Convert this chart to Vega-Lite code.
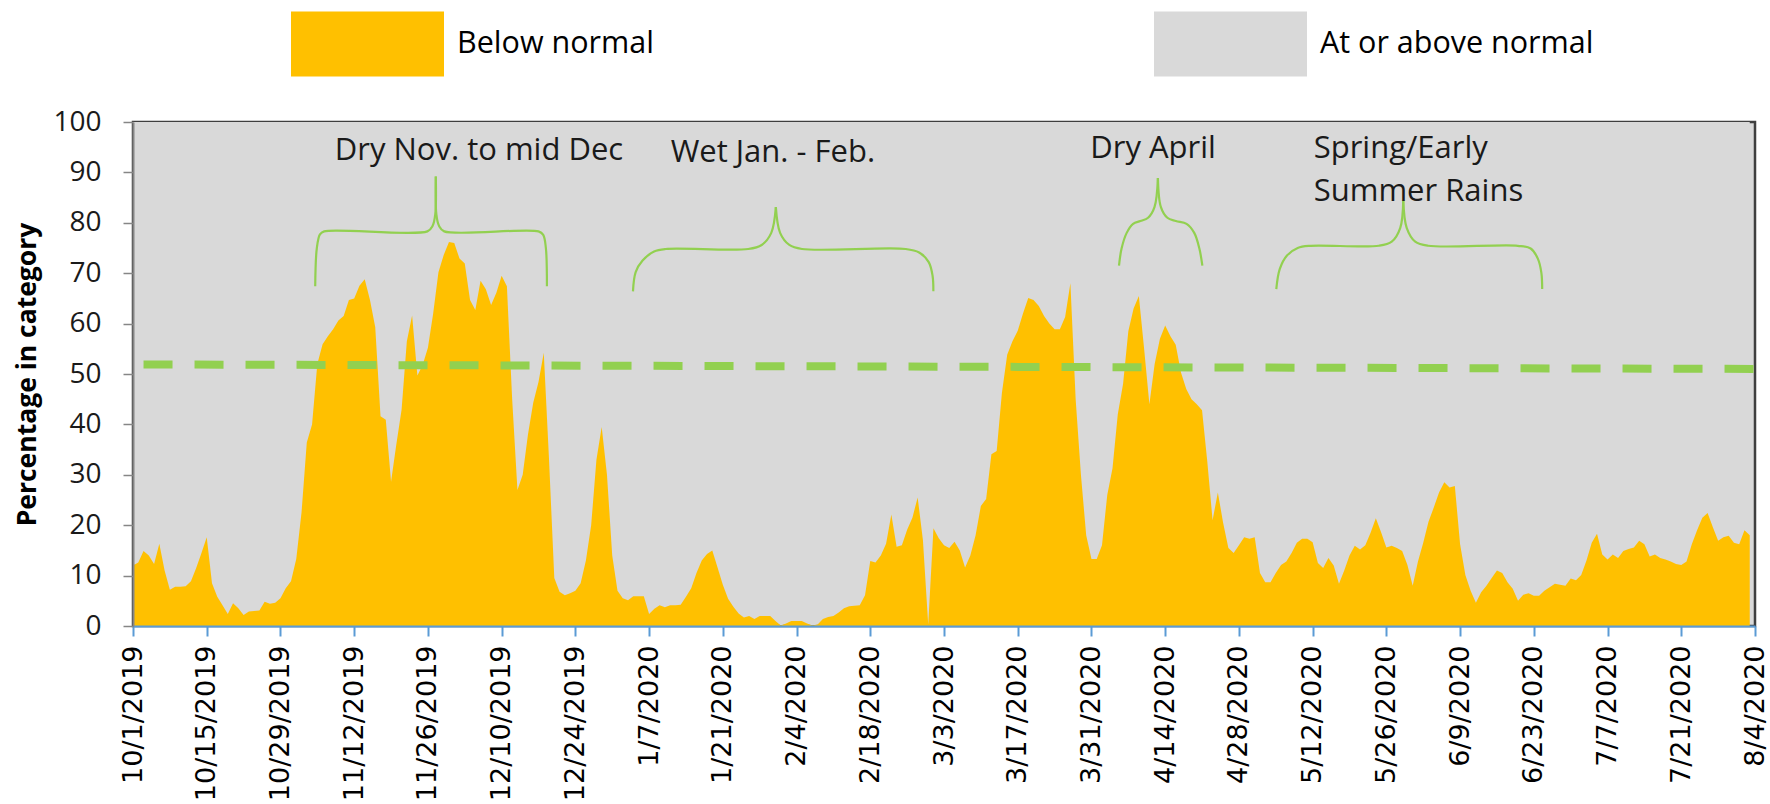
{
  "$schema": "https://vega.github.io/schema/vega-lite/v6.json",
  "width": 1622,
  "height": 504,
  "autosize": {"type": "none"},
  "padding": {"left": 133, "top": 122, "right": 15, "bottom": 178},
  "background": "white",
  "config": {
    "view": {"fill": "#D9D9D9", "stroke": "#3F3F3F", "strokeWidth": 2.5},
    "font": "Open Sans"
  },
  "datasets": {
    "series": [
      {"date":"2019-10-01","pct":12},{"date":"2019-10-02","pct":12.6},{"date":"2019-10-03","pct":14.9},{"date":"2019-10-04","pct":14},{"date":"2019-10-05","pct":12.3},{"date":"2019-10-06","pct":16.3},{"date":"2019-10-07","pct":11},{"date":"2019-10-08","pct":7.2},{"date":"2019-10-09","pct":7.8},{"date":"2019-10-10","pct":7.8},{"date":"2019-10-11","pct":7.9},{"date":"2019-10-12","pct":8.9},{"date":"2019-10-13","pct":11.5},{"date":"2019-10-14","pct":14.5},{"date":"2019-10-15","pct":17.6},{"date":"2019-10-16","pct":8.5},{"date":"2019-10-17","pct":5.8},{"date":"2019-10-18","pct":4.1},{"date":"2019-10-19","pct":2.4},{"date":"2019-10-20","pct":4.5},{"date":"2019-10-21","pct":3.5},{"date":"2019-10-22","pct":2.2},{"date":"2019-10-23","pct":2.9},{"date":"2019-10-24","pct":3.0},{"date":"2019-10-25","pct":3.1},{"date":"2019-10-26","pct":4.8},{"date":"2019-10-27","pct":4.4},{"date":"2019-10-28","pct":4.6},{"date":"2019-10-29","pct":5.5},{"date":"2019-10-30","pct":7.5},{"date":"2019-10-31","pct":8.9},
      {"date":"2019-11-01","pct":13.3},{"date":"2019-11-02","pct":22.5},{"date":"2019-11-03","pct":36.4},{"date":"2019-11-04","pct":40},{"date":"2019-11-05","pct":52},{"date":"2019-11-06","pct":55.9},{"date":"2019-11-07","pct":57.5},{"date":"2019-11-08","pct":58.9},{"date":"2019-11-09","pct":60.6},{"date":"2019-11-10","pct":61.5},{"date":"2019-11-11","pct":64.7},{"date":"2019-11-12","pct":65},{"date":"2019-11-13","pct":67.5},{"date":"2019-11-14","pct":68.8},{"date":"2019-11-15","pct":64.7},{"date":"2019-11-16","pct":59.3},{"date":"2019-11-17","pct":41.6},{"date":"2019-11-18","pct":40.9},{"date":"2019-11-19","pct":28.6},{"date":"2019-11-20","pct":36},{"date":"2019-11-21","pct":42.9},{"date":"2019-11-22","pct":56.5},{"date":"2019-11-23","pct":61.6},{"date":"2019-11-24","pct":49.7},{"date":"2019-11-25","pct":51.8},{"date":"2019-11-26","pct":55.2},{"date":"2019-11-27","pct":62},{"date":"2019-11-28","pct":70.2},{"date":"2019-11-29","pct":73.6},{"date":"2019-11-30","pct":76.2},
      {"date":"2019-12-01","pct":76},{"date":"2019-12-02","pct":72.9},{"date":"2019-12-03","pct":71.9},{"date":"2019-12-04","pct":64.7},{"date":"2019-12-05","pct":62.7},{"date":"2019-12-06","pct":68.5},{"date":"2019-12-07","pct":66.8},{"date":"2019-12-08","pct":63.7},{"date":"2019-12-09","pct":66.1},{"date":"2019-12-10","pct":69.5},{"date":"2019-12-11","pct":67.4},{"date":"2019-12-12","pct":45},{"date":"2019-12-13","pct":27},{"date":"2019-12-14","pct":30},{"date":"2019-12-15","pct":38},{"date":"2019-12-16","pct":44.3},{"date":"2019-12-17","pct":48.4},{"date":"2019-12-18","pct":54.2},{"date":"2019-12-19","pct":33},{"date":"2019-12-20","pct":9.5},{"date":"2019-12-21","pct":6.8},{"date":"2019-12-22","pct":6.1},{"date":"2019-12-23","pct":6.5},{"date":"2019-12-24","pct":7},{"date":"2019-12-25","pct":8.5},{"date":"2019-12-26","pct":13},{"date":"2019-12-27","pct":20},{"date":"2019-12-28","pct":33},{"date":"2019-12-29","pct":39.5},{"date":"2019-12-30","pct":30},{"date":"2019-12-31","pct":14},
      {"date":"2020-01-01","pct":7},{"date":"2020-01-02","pct":5.5},{"date":"2020-01-03","pct":5.1},{"date":"2020-01-04","pct":5.9},{"date":"2020-01-05","pct":5.9},{"date":"2020-01-06","pct":5.9},{"date":"2020-01-07","pct":2.4},{"date":"2020-01-08","pct":3.4},{"date":"2020-01-09","pct":4.1},{"date":"2020-01-10","pct":3.7},{"date":"2020-01-11","pct":4.1},{"date":"2020-01-12","pct":4.1},{"date":"2020-01-13","pct":4.2},{"date":"2020-01-14","pct":5.8},{"date":"2020-01-15","pct":7.5},{"date":"2020-01-16","pct":10.5},{"date":"2020-01-17","pct":13},{"date":"2020-01-18","pct":14.3},{"date":"2020-01-19","pct":15},{"date":"2020-01-20","pct":11.6},{"date":"2020-01-21","pct":8.2},{"date":"2020-01-22","pct":5.4},{"date":"2020-01-23","pct":3.8},{"date":"2020-01-24","pct":2.5},{"date":"2020-01-25","pct":1.7},{"date":"2020-01-26","pct":2},{"date":"2020-01-27","pct":1.4},{"date":"2020-01-28","pct":2},{"date":"2020-01-29","pct":2},{"date":"2020-01-30","pct":2},{"date":"2020-01-31","pct":1},
      {"date":"2020-02-01","pct":0.1},{"date":"2020-02-02","pct":0.5},{"date":"2020-02-03","pct":1},{"date":"2020-02-04","pct":1},{"date":"2020-02-05","pct":1},{"date":"2020-02-06","pct":0.5},{"date":"2020-02-07","pct":0.1},{"date":"2020-02-08","pct":0.3},{"date":"2020-02-09","pct":1.4},{"date":"2020-02-10","pct":1.8},{"date":"2020-02-11","pct":2},{"date":"2020-02-12","pct":2.7},{"date":"2020-02-13","pct":3.5},{"date":"2020-02-14","pct":3.9},{"date":"2020-02-15","pct":4},{"date":"2020-02-16","pct":4.1},{"date":"2020-02-17","pct":6.1},{"date":"2020-02-18","pct":12.9},{"date":"2020-02-19","pct":12.6},{"date":"2020-02-20","pct":14},{"date":"2020-02-21","pct":16.3},{"date":"2020-02-22","pct":22.1},{"date":"2020-02-23","pct":15.7},{"date":"2020-02-24","pct":16},{"date":"2020-02-25","pct":19.1},{"date":"2020-02-26","pct":21.5},{"date":"2020-02-27","pct":25.5},{"date":"2020-02-28","pct":17},{"date":"2020-02-29","pct":0.3},
      {"date":"2020-03-01","pct":19.4},{"date":"2020-03-02","pct":17.4},{"date":"2020-03-03","pct":16},{"date":"2020-03-04","pct":15.5},{"date":"2020-03-05","pct":16.7},{"date":"2020-03-06","pct":15},{"date":"2020-03-07","pct":11.6},{"date":"2020-03-08","pct":14},{"date":"2020-03-09","pct":18},{"date":"2020-03-10","pct":23.8},{"date":"2020-03-11","pct":25.2},{"date":"2020-03-12","pct":34.1},{"date":"2020-03-13","pct":34.7},{"date":"2020-03-14","pct":46.3},{"date":"2020-03-15","pct":53.8},{"date":"2020-03-16","pct":56.5},{"date":"2020-03-17","pct":58.6},{"date":"2020-03-18","pct":62},{"date":"2020-03-19","pct":65.1},{"date":"2020-03-20","pct":64.7},{"date":"2020-03-21","pct":63.5},{"date":"2020-03-22","pct":61.5},{"date":"2020-03-23","pct":60},{"date":"2020-03-24","pct":58.9},{"date":"2020-03-25","pct":58.9},{"date":"2020-03-26","pct":61.3},{"date":"2020-03-27","pct":68},{"date":"2020-03-28","pct":45},{"date":"2020-03-29","pct":30},{"date":"2020-03-30","pct":18},{"date":"2020-03-31","pct":13.3},
      {"date":"2020-04-01","pct":13.3},{"date":"2020-04-02","pct":16},{"date":"2020-04-03","pct":26},{"date":"2020-04-04","pct":31.3},{"date":"2020-04-05","pct":42},{"date":"2020-04-06","pct":48},{"date":"2020-04-07","pct":58.5},{"date":"2020-04-08","pct":63},{"date":"2020-04-09","pct":65.5},{"date":"2020-04-10","pct":55},{"date":"2020-04-11","pct":44},{"date":"2020-04-12","pct":52},{"date":"2020-04-13","pct":57},{"date":"2020-04-14","pct":59.6},{"date":"2020-04-15","pct":57.5},{"date":"2020-04-16","pct":55.8},{"date":"2020-04-17","pct":50.3},{"date":"2020-04-18","pct":47},{"date":"2020-04-19","pct":45},{"date":"2020-04-20","pct":44},{"date":"2020-04-21","pct":42.8},{"date":"2020-04-22","pct":32.6},{"date":"2020-04-23","pct":21},{"date":"2020-04-24","pct":26.5},{"date":"2020-04-25","pct":20.5},{"date":"2020-04-26","pct":15.5},{"date":"2020-04-27","pct":14.5},{"date":"2020-04-28","pct":16},{"date":"2020-04-29","pct":17.6},{"date":"2020-04-30","pct":17.3},
      {"date":"2020-05-01","pct":17.6},{"date":"2020-05-02","pct":10.5},{"date":"2020-05-03","pct":8.7},{"date":"2020-05-04","pct":8.7},{"date":"2020-05-05","pct":10.5},{"date":"2020-05-06","pct":12.1},{"date":"2020-05-07","pct":12.8},{"date":"2020-05-08","pct":14.5},{"date":"2020-05-09","pct":16.5},{"date":"2020-05-10","pct":17.3},{"date":"2020-05-11","pct":17.3},{"date":"2020-05-12","pct":16.6},{"date":"2020-05-13","pct":12.5},{"date":"2020-05-14","pct":11.5},{"date":"2020-05-15","pct":13.5},{"date":"2020-05-16","pct":12},{"date":"2020-05-17","pct":8.4},{"date":"2020-05-18","pct":11},{"date":"2020-05-19","pct":14},{"date":"2020-05-20","pct":15.9},{"date":"2020-05-21","pct":15.2},{"date":"2020-05-22","pct":16},{"date":"2020-05-23","pct":18.5},{"date":"2020-05-24","pct":21.4},{"date":"2020-05-25","pct":18.6},{"date":"2020-05-26","pct":15.6},{"date":"2020-05-27","pct":15.9},{"date":"2020-05-28","pct":15.5},{"date":"2020-05-29","pct":14.9},{"date":"2020-05-30","pct":12.1},{"date":"2020-05-31","pct":8},
      {"date":"2020-06-01","pct":12.8},{"date":"2020-06-02","pct":16.5},{"date":"2020-06-03","pct":20.7},{"date":"2020-06-04","pct":23.5},{"date":"2020-06-05","pct":26.5},{"date":"2020-06-06","pct":28.5},{"date":"2020-06-07","pct":27.5},{"date":"2020-06-08","pct":27.8},{"date":"2020-06-09","pct":16.2},{"date":"2020-06-10","pct":10.1},{"date":"2020-06-11","pct":7},{"date":"2020-06-12","pct":4.6},{"date":"2020-06-13","pct":6.7},{"date":"2020-06-14","pct":8},{"date":"2020-06-15","pct":9.5},{"date":"2020-06-16","pct":11},{"date":"2020-06-17","pct":10.5},{"date":"2020-06-18","pct":8.7},{"date":"2020-06-19","pct":7.4},{"date":"2020-06-20","pct":5},{"date":"2020-06-21","pct":6.2},{"date":"2020-06-22","pct":6.5},{"date":"2020-06-23","pct":6},{"date":"2020-06-24","pct":6},{"date":"2020-06-25","pct":7},{"date":"2020-06-26","pct":7.7},{"date":"2020-06-27","pct":8.4},{"date":"2020-06-28","pct":8.2},{"date":"2020-06-29","pct":8},{"date":"2020-06-30","pct":9.4},
      {"date":"2020-07-01","pct":9.1},{"date":"2020-07-02","pct":10.1},{"date":"2020-07-03","pct":13},{"date":"2020-07-04","pct":16.5},{"date":"2020-07-05","pct":18.3},{"date":"2020-07-06","pct":14.2},{"date":"2020-07-07","pct":13.2},{"date":"2020-07-08","pct":14.2},{"date":"2020-07-09","pct":13.5},{"date":"2020-07-10","pct":14.9},{"date":"2020-07-11","pct":15.3},{"date":"2020-07-12","pct":15.6},{"date":"2020-07-13","pct":16.9},{"date":"2020-07-14","pct":16.2},{"date":"2020-07-15","pct":13.8},{"date":"2020-07-16","pct":14.2},{"date":"2020-07-17","pct":13.5},{"date":"2020-07-18","pct":13.2},{"date":"2020-07-19","pct":12.8},{"date":"2020-07-20","pct":12.3},{"date":"2020-07-21","pct":12.1},{"date":"2020-07-22","pct":12.8},{"date":"2020-07-23","pct":16.2},{"date":"2020-07-24","pct":19},{"date":"2020-07-25","pct":21.5},{"date":"2020-07-26","pct":22.4},{"date":"2020-07-27","pct":19.6},{"date":"2020-07-28","pct":16.9},{"date":"2020-07-29","pct":17.6},{"date":"2020-07-30","pct":17.9},{"date":"2020-07-31","pct":16.5},
      {"date":"2020-08-01","pct":16.2},{"date":"2020-08-02","pct":19},{"date":"2020-08-03","pct":18}
    ],
    "trend": [
      {"date":"2019-10-03","pct":51.9},
      {"date":"2020-08-04","pct":51.0}
    ],
    "braces": [
      {"seg":"1L","i":0,"day":34.6,"val":67.4},{"seg":"1L","i":1,"day":34.9,"val":74.9},{"seg":"1L","i":2,"day":35.5,"val":77.7},{"seg":"1L","i":3,"day":36.3,"val":78.3},{"seg":"1L","i":4,"day":55.9,"val":78.3},{"seg":"1L","i":5,"day":56.9,"val":79.4},{"seg":"1L","i":6,"day":57.4,"val":81.7},{"seg":"1L","i":7,"day":57.5,"val":89.2},
      {"seg":"1R","i":0,"day":57.5,"val":89.2},{"seg":"1R","i":1,"day":57.6,"val":81.7},{"seg":"1R","i":2,"day":58.1,"val":79.4},{"seg":"1R","i":3,"day":59.1,"val":78.3},{"seg":"1R","i":4,"day":77.0,"val":78.3},{"seg":"1R","i":5,"day":77.9,"val":77.6},{"seg":"1R","i":6,"day":78.4,"val":75},{"seg":"1R","i":7,"day":78.6,"val":67.4},
      {"seg":"2L","i":0,"day":94.94,"val":66.4},{"seg":"2L","i":1,"day":95.45,"val":70.2},{"seg":"2L","i":2,"day":96.76,"val":72.5},{"seg":"2L","i":3,"day":98.95,"val":74.3},{"seg":"2L","i":4,"day":101.14,"val":74.8},{"seg":"2L","i":5,"day":116.82,"val":74.8},{"seg":"2L","i":6,"day":119.38,"val":75.6},{"seg":"2L","i":7,"day":121.2,"val":78.0},{"seg":"2L","i":8,"day":122.07,"val":83.1},
      {"seg":"2R","i":0,"day":122.07,"val":83.1},{"seg":"2R","i":1,"day":122.88,"val":78.0},{"seg":"2R","i":2,"day":124.63,"val":75.6},{"seg":"2R","i":3,"day":127.03,"val":74.8},{"seg":"2R","i":4,"day":146.73,"val":74.8},{"seg":"2R","i":5,"day":149.28,"val":74.1},{"seg":"2R","i":6,"day":151.1,"val":72.2},{"seg":"2R","i":7,"day":151.83,"val":69.5},{"seg":"2R","i":8,"day":151.98,"val":66.4},
      {"seg":"3L","i":0,"day":187.23,"val":71.5},{"seg":"3L","i":1,"day":187.72,"val":74.9},{"seg":"3L","i":2,"day":188.69,"val":78.0},{"seg":"3L","i":3,"day":189.91,"val":79.8},{"seg":"3L","i":4,"day":191.29,"val":80.35},{"seg":"3L","i":5,"day":192.75,"val":81.0},{"seg":"3L","i":6,"day":193.97,"val":83.1},{"seg":"3L","i":7,"day":194.62,"val":88.9},
      {"seg":"3R","i":0,"day":194.62,"val":88.9},{"seg":"3R","i":1,"day":195.19,"val":83.1},{"seg":"3R","i":2,"day":196.41,"val":81.0},{"seg":"3R","i":3,"day":198.03,"val":80.35},{"seg":"3R","i":4,"day":200.06,"val":79.8},{"seg":"3R","i":5,"day":201.52,"val":78.0},{"seg":"3R","i":6,"day":202.49,"val":74.9},{"seg":"3R","i":7,"day":203.06,"val":71.5},
      {"seg":"4L","i":0,"day":217.1,"val":66.85},{"seg":"4L","i":1,"day":217.75,"val":70.8},{"seg":"4L","i":2,"day":219.13,"val":73.5},{"seg":"4L","i":3,"day":221.16,"val":75.0},{"seg":"4L","i":4,"day":223.6,"val":75.44},{"seg":"4L","i":5,"day":236.58,"val":75.44},{"seg":"4L","i":6,"day":239.02,"val":76.26},{"seg":"4L","i":7,"day":240.64,"val":79.0},{"seg":"4L","i":8,"day":241.21,"val":84.45},
      {"seg":"4R","i":0,"day":241.21,"val":84.45},{"seg":"4R","i":1,"day":241.86,"val":79.0},{"seg":"4R","i":2,"day":243.48,"val":76.26},{"seg":"4R","i":3,"day":245.92,"val":75.44},{"seg":"4R","i":4,"day":262.96,"val":75.44},{"seg":"4R","i":5,"day":265.4,"val":74.9},{"seg":"4R","i":6,"day":266.78,"val":72.85},{"seg":"4R","i":7,"day":267.43,"val":70.12},{"seg":"4R","i":8,"day":267.59,"val":66.85}
    ],
    "notesCenter": [
      {"label":"Dry Nov. to mid Dec","day":65.7,"val":92.5},
      {"label":"Wet Jan. - Feb.","day":121.5,"val":92.1},
      {"label":"Dry April","day":193.7,"val":92.8}
    ],
    "notesLeft": [
      {"label":"Spring/Early","day":224.2,"val":92.8},
      {"label":"Summer Rains","day":224.2,"val":84.4}
    ]
  },
  "layer": [
    {
      "layer": [
        {
          "data": {"name": "series"},
          "mark": {"type": "area", "interpolate": "linear"},
          "encoding": {
            "x": {
              "field": "date", "type": "temporal",
              "scale": {"type": "utc", "domain": [1569888000000, 1596499200000], "nice": false},
              "axis": {
                "values": [1569888000000,1571097600000,1572307200000,1573516800000,1574726400000,1575936000000,1577145600000,1578355200000,1579564800000,1580774400000,1581984000000,1583193600000,1584403200000,1585612800000,1586822400000,1588032000000,1589241600000,1590451200000,1591660800000,1592870400000,1594080000000,1595289600000,1596499200000],
                "format": "%-m/%-d/%Y",
                "labelAngle": 270,
                "labelFont": "DejaVu Sans",
                "labelFontSize": 27,
                "labelColor": "#000000",
                "labelPadding": 9,
                "labelOverlap": false,
                "labelFlush": false,
                "labelBound": false,
                "domainColor": "#5B9BD5",
                "domainWidth": 2,
                "tickColor": "#5B9BD5",
                "tickWidth": 2,
                "tickSize": 10,
                "grid": false,
                "title": null,
                "zindex": 1
              }
            },
            "y": {
              "field": "pct", "type": "quantitative",
              "scale": {"domain": [0, 100], "nice": false},
              "axis": {
                "values": [0,10,20,30,40,50,60,70,80,90,100],
                "grid": false,
                "domainColor": "#868686",
                "domainWidth": 2,
                "tickColor": "#868686",
                "tickWidth": 1.5,
                "tickSize": 10,
                "labelFont": "Open Sans",
                "labelFontSize": 28,
                "labelColor": "#1a1a1a",
                "labelPadding": 22,
                "title": "Percentage in category",
                "titleFont": "Open Sans",
                "titleFontSize": 26.5,
                "titleFontWeight": "bold",
                "titleColor": "#000000",
                "titlePadding": 11,
                "zindex": 1
              }
            },
            "y2": {"datum": 100},
            "color": {
              "datum": "At or above normal",
              "scale": {"domain": ["Below normal", "At or above normal"], "range": ["#FFC000", "#D9D9D9"]},
              "legend": {
                "orient": "none",
                "legendX": 158,
                "legendY": -155,
                "direction": "horizontal",
                "title": null,
                "symbolType": "M-1,-0.425H1V0.425H-1Z",
                "symbolSize": 23409,
                "symbolStrokeWidth": 0,
                "symbolOpacity": 1,
                "labelFont": "Open Sans",
                "labelFontSize": 30.5,
                "labelColor": "#000000",
                "labelOffset": 13,
                "columnPadding": 500,
                "labelLimit": 400
              }
            }
          }
        },
        {
          "data": {"name": "series"},
          "mark": {"type": "area", "interpolate": "linear"},
          "encoding": {
            "x": {"field": "date", "type": "temporal"},
            "y": {"field": "pct", "type": "quantitative"},
            "color": {"datum": "Below normal"}
          }
        },
        {
          "data": {"name": "trend"},
          "mark": {"type": "line", "color": "#92D050", "strokeWidth": 8, "strokeDash": [29, 22]},
          "encoding": {
            "x": {"field": "date", "type": "temporal"},
            "y": {"field": "pct", "type": "quantitative"}
          }
        }
      ]
    },
    {
      "layer": [
        {
          "data": {"name": "braces"},
          "mark": {"type": "line", "color": "#92D050", "strokeWidth": 2.2, "interpolate": "catmull-rom"},
          "encoding": {
            "x": {"field": "day", "type": "quantitative", "scale": {"domain": [0, 308], "nice": false, "zero": false}, "axis": null},
            "y": {"field": "val", "type": "quantitative"},
            "detail": {"field": "seg"},
            "order": {"field": "i"}
          }
        },
        {
          "data": {"name": "notesCenter"},
          "mark": {"type": "text", "font": "Open Sans", "fontSize": 31, "color": "#1a1a1a", "align": "center", "baseline": "alphabetic"},
          "encoding": {
            "x": {"field": "day", "type": "quantitative"},
            "y": {"field": "val", "type": "quantitative"},
            "text": {"field": "label"}
          }
        },
        {
          "data": {"name": "notesLeft"},
          "mark": {"type": "text", "font": "Open Sans", "fontSize": 31, "color": "#1a1a1a", "align": "left", "baseline": "alphabetic"},
          "encoding": {
            "x": {"field": "day", "type": "quantitative"},
            "y": {"field": "val", "type": "quantitative"},
            "text": {"field": "label"}
          }
        }
      ]
    }
  ],
  "resolve": {"scale": {"x": "independent"}}
}
